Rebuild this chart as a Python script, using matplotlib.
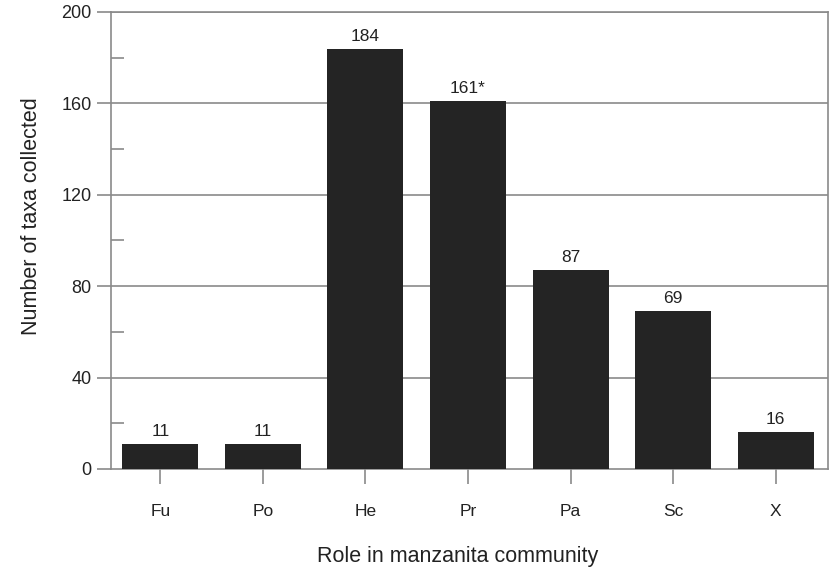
import matplotlib
matplotlib.use("Agg")
import matplotlib.pyplot as plt
from matplotlib.ticker import MultipleLocator

plt.rcParams['font.family'] = ['Liberation Sans', 'DejaVu Sans']

categories = ["Fu", "Po", "He", "Pr", "Pa", "Sc", "X"]
values = [11, 11, 184, 161, 87, 69, 16]
labels = ["11", "11", "184", "161*", "87", "69", "16"]
yticks = [0, 40, 80, 120, 160, 200]

fig = plt.figure(figsize=(8.31, 5.68), dpi=100)
ax = fig.add_axes([0.1336, 0.1743, 0.8628, 0.8046])

gray = "#8a8a8a"
x = list(range(len(categories)))
ax.bar(x, values, width=0.74, color="#242424", zorder=3)
for xi, v, lab in zip(x, values, labels):
    ax.text(xi, v + 2.2, lab, ha="center", va="bottom", fontsize=12.5, color="#222222")

ax.set_xlim(-0.48, 6.51)
ax.set_ylim(0, 200)
ax.set_yticks(yticks)
ax.yaxis.set_minor_locator(MultipleLocator(20))
ax.set_xticks(x)
ax.set_xticklabels(categories)

for yv in yticks[1:]:
    ax.axhline(yv, color=gray, lw=1.2, zorder=1)

for s in ax.spines.values():
    s.set_color(gray)
    s.set_linewidth(1.2)

ax.tick_params(axis="y", which="major", direction="out", length=10, width=1.2,
               color=gray, labelsize=13, pad=4, labelcolor="#222222")
ax.tick_params(axis="y", which="minor", direction="in", length=9, width=1.2, color=gray)
ax.tick_params(axis="x", which="major", direction="out", length=11, width=1.2,
               color=gray, labelsize=12.5, pad=14, labelcolor="#222222")

ax.set_xlabel("Role in manzanita community", fontsize=15.5, labelpad=20, color="#222222")
ax.set_ylabel("Number of taxa collected", fontsize=15.5, labelpad=14, color="#222222")
ax.xaxis.label.set_x(0.483)
ax.yaxis.label.set_y(0.554)

fig.savefig("out.png", dpi=100)
